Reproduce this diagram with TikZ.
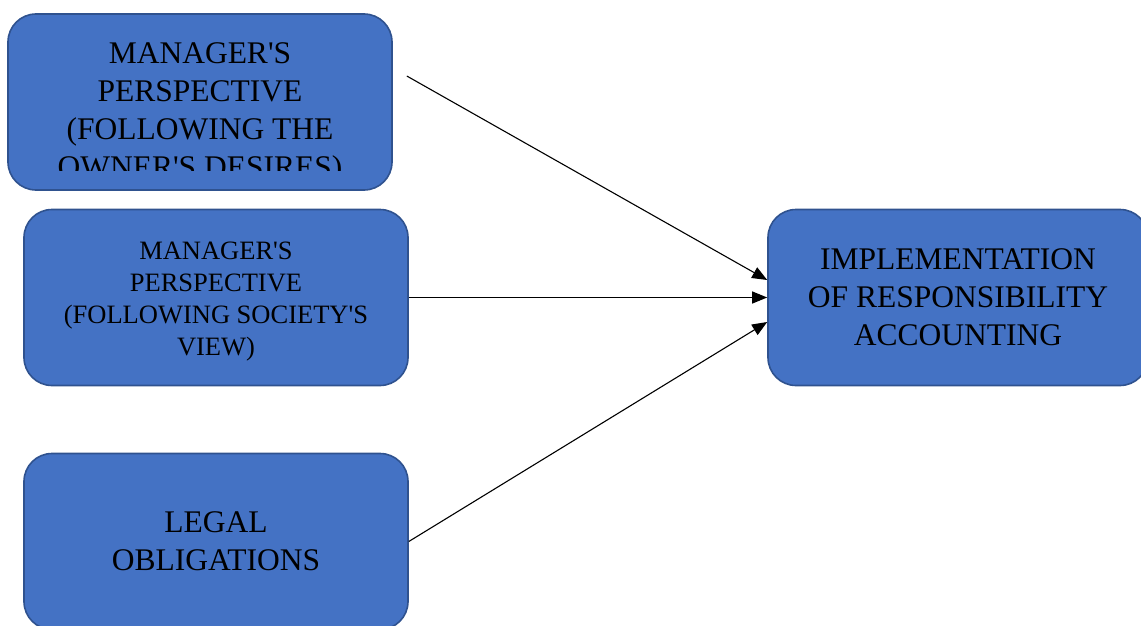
\documentclass[tikz,border=0pt]{standalone}
\usepackage{fontspec}
\setmainfont{Liberation Serif}
\usetikzlibrary{positioning, arrows.meta}
\definecolor{boxblue}{HTML}{4472C4}
\definecolor{boxedge}{HTML}{2F528F}
\newcommand{\ap}{\textquotesingle}

\begin{document}
\begin{tikzpicture}[
        x=1pt, y=-1pt,
        factor/.style={draw=boxedge, fill=boxblue, line width=1.6pt, rounded corners=28pt, minimum width=384pt, minimum height=176pt, align=center, inner sep=0pt},
        big/.style={font=\fontsize{31.5}{38}\selectfont, align=center},
        small/.style={font=\fontsize{26.5}{32}\selectfont, align=center},
        arrow/.style={-{Triangle[length=15pt, width=12pt]}, line width=1.1pt}
    ]
    \useasboundingbox (0,0) rectangle (1141,626);

    \node[factor] (owner) at (200,102) {};
    \begin{scope}
        \clip (8,14) rectangle (392,170);
        \node[big] (ownertext) at (200,113) {MANAGER\ap S\\PERSPECTIVE\\(FOLLOWING THE\\OWNER\ap S DESIRES)};
    \end{scope}

    \node[factor] (society) at (216,297.5) {};
    \node[small] (societytext) at (216,301.5) {MANAGER\ap S\\PERSPECTIVE\\(FOLLOWING SOCIETY\ap S\\VIEW)};
    \node[factor, big] (legal) at (216,541.5) {LEGAL\\OBLIGATIONS};
    \node[factor, big, minimum width=380pt] (impl) at (958,297.5) {IMPLEMENTATION\\OF RESPONSIBILITY\\ACCOUNTING};

    \draw[arrow] ([xshift=14pt, yshift=26pt]owner.east) -- ([yshift=17.5pt]impl.west);
    \draw[arrow] (society.east) -- (impl.west);
    \draw[arrow] (legal.east) -- ([yshift=-24.5pt]impl.west);

\end{tikzpicture}
\end{document}
